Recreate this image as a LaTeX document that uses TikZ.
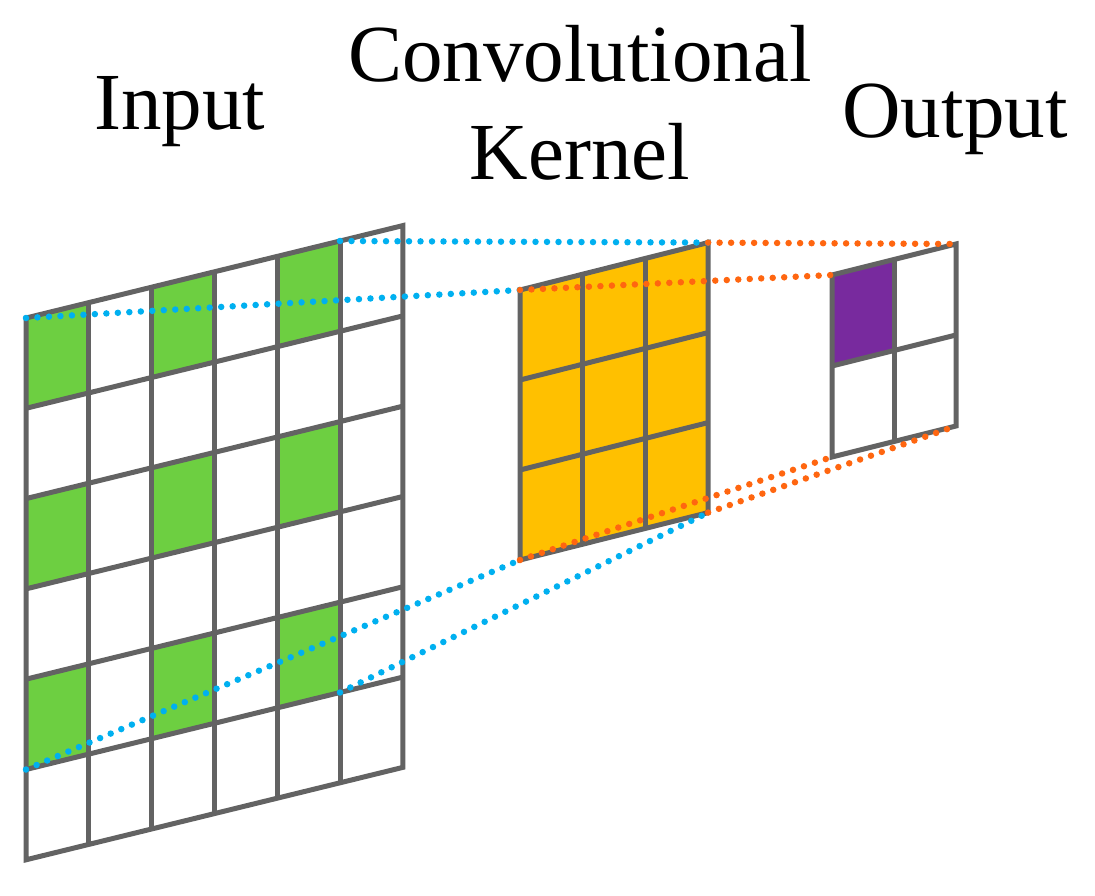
\documentclass[tikz,border=0pt]{standalone}
\usepackage{fontspec}
\setmainfont{Liberation Serif}
\definecolor{gridgray}{RGB}{99,99,99}
\definecolor{cellgreen}{RGB}{109,207,65}
\definecolor{kernelyellow}{RGB}{255,192,0}
\definecolor{outpurple}{RGB}{120,42,158}
\definecolor{dotblue}{RGB}{0,176,240}
\definecolor{dotorange}{RGB}{255,102,16}
\begin{document}
\begin{tikzpicture}[x=1pt,y=-1pt,
  gridline/.style={draw=gridgray, line width=5pt, line join=miter},
  bluedots/.style={draw=dotblue, line width=6.5pt, line cap=round, dash pattern=on 0pt off 11.5pt},
  orangedots/.style={draw=dotorange, line width=6.5pt, line cap=round, dash pattern=on 0pt off 11.5pt},
  lbl/.style={font=\fontsize{81}{97}\selectfont, inner sep=0pt, anchor=base}]
\useasboundingbox (0,0) rectangle (1095,896);

% labels
\node[lbl] (inlabel) at (180,130) {Input};
\node[lbl] (convlabel) at (580,82) {Convolutional};
\node[lbl] (kernlabel) at (580,180) {Kernel};
\node[lbl] (outlabel) at (955,138) {Output};

% input grid 6x6
\begin{scope}[shift={(26,318)}, x={(62.8pt,15.4pt)}, y={(0pt,-90.3pt)}]
  \foreach \c/\r in {0/0,2/0,4/0,0/2,2/2,4/2,0/4,2/4,4/4}
    \fill[cellgreen] (\c,\r) -- ++(1,0) -- ++(0,1) -- ++(-1,0) -- cycle;
  \foreach \i in {1,...,5} \draw[gridline] (\i,0) -- (\i,6);
  \foreach \j in {1,...,5} \draw[gridline] (0,\j) -- (6,\j);
  \draw[gridline] (0,0) -- (6,0) -- (6,6) -- (0,6) -- cycle;
  \coordinate (intl) at (0,0);
  \coordinate (intr) at (5,0);
  \coordinate (inbl) at (0,5);
  \coordinate (inbr) at (5,5);
\end{scope}

% kernel 3x3
\begin{scope}[shift={(520,290)}, x={(62.7pt,15.8pt)}, y={(0pt,-90pt)}]
  \fill[kernelyellow] (0,0) -- (3,0) -- (3,3) -- (0,3) -- cycle;
  \foreach \i in {1,2} \draw[gridline] (\i,0) -- (\i,3);
  \foreach \j in {1,2} \draw[gridline] (0,\j) -- (3,\j);
  \draw[gridline] (0,0) -- (3,0) -- (3,3) -- (0,3) -- cycle;
  \coordinate (ktl) at (0,0);
  \coordinate (ktr) at (3,0);
  \coordinate (kbl) at (0,3);
  \coordinate (kbr) at (3,3);
\end{scope}

% blue projection lines (input -> kernel)
\draw[bluedots] (intr) -- (ktr);
\draw[bluedots] (intl) -- (ktl);
\draw[bluedots] (inbl) -- (kbl);
\draw[bluedots] (inbr) -- (kbr);

% output 2x2
\begin{scope}[shift={(832,275)}, x={(62pt,15.5pt)}, y={(0pt,-91pt)}]
  \fill[outpurple] (0,0) -- (1,0) -- (1,1) -- (0,1) -- cycle;
  \draw[gridline] (1,0) -- (1,2);
  \draw[gridline] (0,1) -- (2,1);
  \draw[gridline] (0,0) -- (2,0) -- (2,2) -- (0,2) -- cycle;
  \coordinate (otl) at (0,0);
  \coordinate (otr) at (2,0);
  \coordinate (obl) at (0,2);
  \coordinate (obr) at (2,2);
\end{scope}

% orange projection lines (kernel -> output)
\draw[orangedots] (ktr) -- (otr);
\draw[orangedots] (ktl) -- (otl);
\draw[orangedots] (kbl) -- (obl);
\draw[orangedots] (kbr) -- (obr);
\end{tikzpicture}
\end{document}
